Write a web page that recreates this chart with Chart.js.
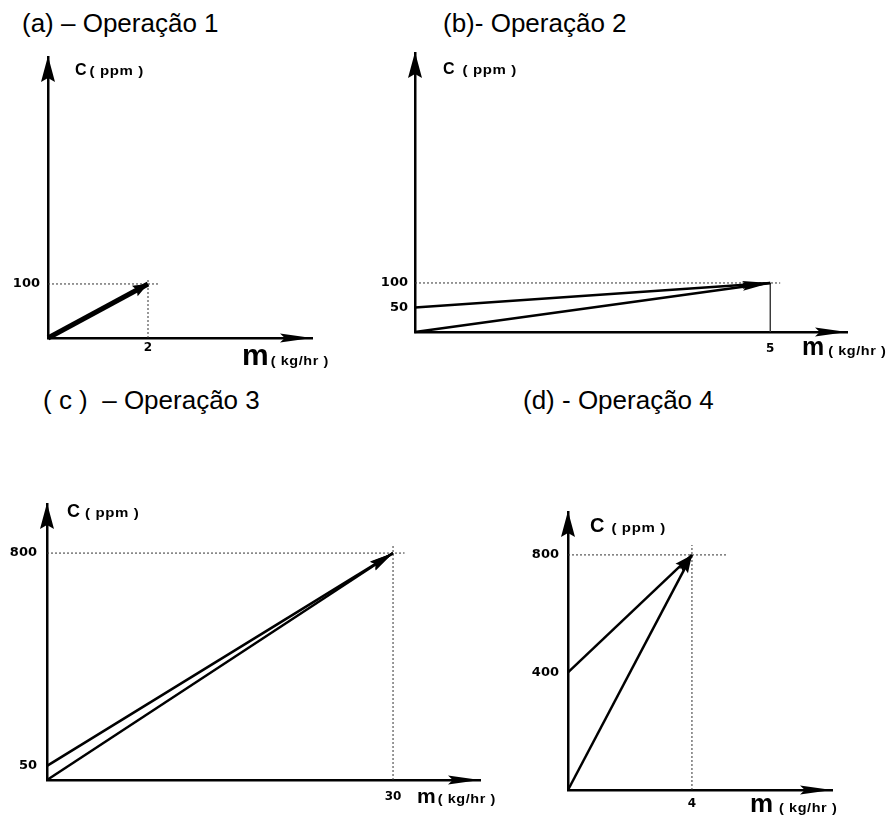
<!DOCTYPE html>
<html>
<head>
<meta charset="utf-8">
<script src="https://cdn.jsdelivr.net/npm/chart.js@4"></script>
<style>
  html, body { margin:0; padding:0; background:#fff; }
  body { width:896px; height:816px; position:relative; overflow:hidden; font-family:"Liberation Sans", Arial, sans-serif; }
  .title { position:absolute; font-size:26px; color:#000; white-space:pre; line-height:1; }
  canvas { position:absolute; }
</style>
</head>
<body>
<div class="title" id="t0" style="left:22px;top:10px;"></div>
<div class="title" id="t1" style="left:443px;top:10px;"></div>
<div class="title" id="t2" style="left:43px;top:387px;"></div>
<div class="title" id="t3" style="left:523px;top:387px;"></div>
<canvas id="ca"></canvas>
<canvas id="cb"></canvas>
<canvas id="cc"></canvas>
<canvas id="cd"></canvas>
<script>
// ---------- DATA ----------
const titles = ['(a) – Operação 1', '(b)- Operação 2', '( c )  – Operação 3', '(d) - Operação 4'];

// Operação 1
const a_m  = [0, 2];
const a_c  = [0, 100];
// Operação 2
const b_m  = [0, 5];
const b_c1 = [50, 100];
const b_c2 = [0, 100];
// Operação 3
const c_m  = [0, 30];
const c_c1 = [50, 800];
const c_c2 = [0, 800];
// Operação 4
const d_m  = [0, 4];
const d_c1 = [400, 800];
const d_c2 = [0, 800];

// tick labels
const a_xTicks = [2],  a_yTicks = [100];
const b_xTicks = [5],  b_yTicks = [50, 100];
const c_xTicks = [30], c_yTicks = [50, 800];
const d_xTicks = [4],  d_yTicks = [400, 800];

// dotted reference lines (m range at the top value, C range at the end value)
const a_guideM = [0, 2.24],  a_guideC = [0, 111];
const b_guideM = [0, 5.14],  b_guideC = [0, 100];
const c_guideM = [0, 31.0],  c_guideC = [0, 828];
const d_guideM = [0, 5.13],  d_guideC = [0, 834];

// axis names
const yName = ['C', '( ppm )'];
const xName = ['m', '( kg/hr )'];

// ---------- helpers ----------
const pts = (xs, ys) => xs.map((x, i) => ({ x: x, y: ys[i] }));

function drawHead(ctx, x1, y1, x2, y2, len, half) {
  const a = Math.atan2(y2 - y1, x2 - x1);
  ctx.save();
  ctx.translate(x2, y2);
  ctx.rotate(a);
  ctx.beginPath();
  ctx.moveTo(0, 0);
  ctx.lineTo(-len, -half);
  ctx.lineTo(-len * 0.85, 0);
  ctx.lineTo(-len, half);
  ctx.closePath();
  ctx.fillStyle = '#000';
  ctx.fill();
  ctx.restore();
}

function drawName(ctx, x, y, big, bigSize, bigWeight, small, gap, sx) {
  ctx.save();
  ctx.fillStyle = '#000';
  ctx.textAlign = 'left';
  ctx.textBaseline = 'alphabetic';
  ctx.font = bigWeight + ' ' + bigSize + 'px "Liberation Sans", Arial, sans-serif';
  ctx.fillText(big, x, y);
  const w = ctx.measureText(big).width;
  ctx.translate(x + w + gap, y);
  ctx.scale(sx, 1);
  ctx.font = 'bold 12px "Liberation Sans", Arial, sans-serif';
  ctx.letterSpacing = '0.5px';
  ctx.fillText(small, 0, 0);
  ctx.restore();
}

const arrowPlugin = {
  id: 'arrows',
  afterDatasetsDraw(chart) {
    const ctx = chart.ctx;
    chart.data.datasets.forEach((ds, i) => {
      if (!ds.head) return;
      const p = chart.getDatasetMeta(i).data;
      const p1 = p[p.length - 2], p2 = p[p.length - 1];
      drawHead(ctx, p1.x, p1.y, p2.x, p2.y, ds.head[0], ds.head[1]);
    });
  },
  afterDraw(chart, args, o) {
    const ctx = chart.ctx;
    const { left, top, right, bottom } = chart.chartArea;
    drawHead(ctx, left, bottom, left, top - 1, 26, 7);
    drawHead(ctx, left, bottom, right, bottom, 32, 4.5);
    drawName(ctx, left + o.c.dx, top + o.c.dy, yName[0], o.c.size, 'bold', yName[1], o.c.gap, 1.25);
    drawName(ctx, right + o.m.dx, bottom + o.m.dy, xName[0], o.m.size, 'bold', xName[1], o.m.gap, 1.2);
  }
};

function makeChart(id, L, lines, guides, xTicks, yTicks) {
  const cv = document.getElementById(id);
  cv.width = L.w; cv.height = L.h;
  cv.style.left = L.left + 'px'; cv.style.top = L.top + 'px';
  const datasets = [];
  lines.forEach(l => datasets.push({
    data: l, borderColor: '#000', borderWidth: L.lineW, pointRadius: 0, head: L.head, clip: false
  }));
  datasets.push({ data: guides[0], borderColor: '#333', borderWidth: 1, borderDash: [2, 2], pointRadius: 0, clip: false });
  datasets.push({ data: guides[1], borderColor: '#333', borderWidth: L.vSolid ? 1.4 : 1, borderDash: L.vSolid ? [] : [2, 2], pointRadius: 0, clip: false });
  const tickFont = { family: '"DejaVu Sans", sans-serif', weight: 'bold' };
  return new Chart(cv, {
    type: 'line',
    data: { datasets: datasets },
    options: {
      responsive: false, animation: false, devicePixelRatio: 1,
      layout: { padding: { top: L.padT, right: L.padR, left: 0, bottom: 0 } },
      plugins: { legend: { display: false }, tooltip: { enabled: false }, arrows: { c: L.cLab, m: L.mLab } },
      elements: { line: { tension: 0 } },
      scales: {
        x: {
          type: 'linear', min: 0, max: L.xMax,
          grid: { display: false, drawTicks: false },
          border: { display: true, color: '#000', width: 2.5 },
          ticks: { autoSkip: false, maxRotation: 0, padding: L.xTickPad, color: '#000',
                   font: Object.assign({ size: 12 }, tickFont), callback: v => String(v) },
          afterBuildTicks: s => { s.ticks = xTicks.map(v => ({ value: v })); },
          afterFit: s => { s.height = L.xH; }
        },
        y: {
          type: 'linear', min: 0, max: L.yMax,
          grid: { display: false, drawTicks: false },
          border: { display: true, color: '#000', width: 2.5 },
          ticks: { autoSkip: false, padding: L.yTickPad, color: '#000',
                   font: Object.assign({ size: 13 }, tickFont), callback: v => String(v) },
          afterBuildTicks: s => { s.ticks = yTicks.map(v => ({ value: v })); },
          afterFit: s => { s.width = L.yW; }
        }
      }
    },
    plugins: [arrowPlugin]
  });
}

titles.forEach((t, i) => { document.getElementById('t' + i).textContent = t; });

// ---------- panels ----------
makeChart('ca',
  { left: 0, top: 40, w: 340, h: 340, yW: 48, xH: 42, padT: 17, padR: 28, xMax: 5.28, yMax: 520,
    lineW: 5, head: [15, 6], xTickPad: 3, yTickPad: 8,
    cLab: { dx: 27, dy: 18, size: 16, gap: 3 }, mLab: { dx: -70, dy: 27, size: 30, gap: 2 } },
  [pts(a_m, a_c)],
  [pts(a_guideM, [a_c[1], a_c[1]]), pts([a_m[1], a_m[1]], a_guideC)],
  a_xTicks, a_yTicks);

makeChart('cb',
  { left: 367, top: 36, w: 529, h: 340, yW: 48, xH: 44, padT: 17, padR: 49, xMax: 6.08, yMax: 569,
    lineW: 2.5, head: [28, 4], xTickPad: 10, yTickPad: 7, vSolid: true,
    cLab: { dx: 28, dy: 21, size: 16, gap: 8 }, mLab: { dx: -45, dy: 23, size: 25, gap: 4 } },
  [pts(b_m, b_c1), pts(b_m, b_c2)],
  [pts(b_guideM, [b_c1[1], b_c1[1]]), pts([b_m[1], b_m[1]], b_guideC)],
  b_xTicks, b_yTicks);

makeChart('cc',
  { left: 0, top: 480, w: 520, h: 336, yW: 47, xH: 36, padT: 24, padR: 40, xMax: 37.54, yMax: 973,
    lineW: 2.5, head: [24, 5], xTickPad: 10, yTickPad: 10,
    cLab: { dx: 20, dy: 13, size: 18, gap: 5 }, mLab: { dx: -63, dy: 23, size: 21, gap: 2 } },
  [pts(c_m, c_c1), pts(c_m, c_c2)],
  [pts(c_guideM, [c_c1[1], c_c1[1]]), pts([c_m[1], c_m[1]], c_guideC)],
  c_xTicks, c_yTicks);

makeChart('cd',
  { left: 520, top: 490, w: 376, h: 326, yW: 48, xH: 26, padT: 22, padR: 64, xMax: 8.52, yMax: 946,
    lineW: 2.5, head: [18, 5], xTickPad: 7, yTickPad: 9,
    cLab: { dx: 22, dy: 20, size: 20, gap: 7 }, mLab: { dx: -82, dy: 22, size: 26, gap: 6 } },
  [pts(d_m, d_c1), pts(d_m, d_c2)],
  [pts(d_guideM, [d_c1[1], d_c1[1]]), pts([d_m[1], d_m[1]], d_guideC)],
  d_xTicks, d_yTicks);
</script>
</body>
</html>
